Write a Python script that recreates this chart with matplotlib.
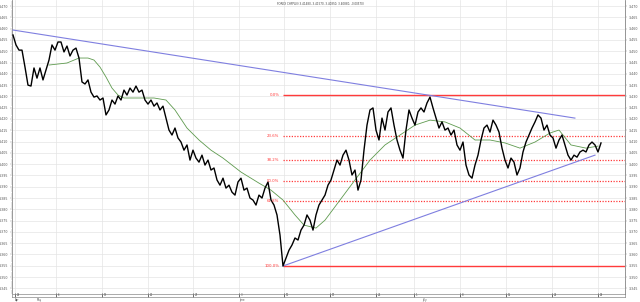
import matplotlib
matplotlib.use("Agg")
import matplotlib.pyplot as plt
import matplotlib.transforms as mtransforms
from matplotlib.ticker import MultipleLocator
import numpy as np

title = "FOREX CHFPLN (3.41480, 3.41570, 3.40350, 3.40880, -0.00570)"

# price series (uniformly sampled bars)
prices = [
    3.4572, 3.4528, 3.4505, 3.4505, 3.4430, 3.4350, 3.4346, 3.4426, 3.4381, 3.4426,
    3.4373, 3.4417, 3.4461, 3.4528, 3.4505, 3.4541, 3.4541, 3.4497, 3.4523, 3.4479,
    3.4505, 3.4514, 3.4470, 3.4364, 3.4355, 3.4373, 3.4319, 3.4297, 3.4302, 3.4284,
    3.4293, 3.4218, 3.4240, 3.4284, 3.4266, 3.4302, 3.4284, 3.4328, 3.4306, 3.4337,
    3.4319, 3.4346, 3.4319, 3.4328, 3.4284, 3.4266, 3.4284, 3.4257, 3.4271, 3.4240,
    3.4257, 3.4204, 3.4151, 3.4129, 3.4160, 3.4116, 3.4098, 3.4062, 3.4085, 3.4018,
    3.4062, 3.4027, 3.4009, 3.4040, 3.3996, 3.4018, 3.3974, 3.3983, 3.3930, 3.3907,
    3.3938, 3.3894, 3.3907, 3.3876, 3.3863, 3.3921, 3.3938, 3.3885, 3.3894, 3.3850,
    3.3841, 3.3819, 3.3863, 3.3850, 3.3894, 3.3921, 3.3841, 3.3819, 3.3775, 3.3686,
    3.3549, 3.3584, 3.3619, 3.3642, 3.3673, 3.3664, 3.3708, 3.3730, 3.3775, 3.3752,
    3.3708, 3.3775, 3.3819, 3.3841, 3.3863, 3.3907, 3.3930, 3.3974, 3.4018, 3.3996,
    3.4040, 3.4062, 3.4018, 3.3952, 3.3974, 3.3885, 3.3930, 3.4062, 3.4173, 3.4240,
    3.4249, 3.4151, 3.4107, 3.4204, 3.4151, 3.4231, 3.4249, 3.4173, 3.4107, 3.4062,
    3.4027, 3.4151, 3.4240, 3.4204, 3.4173, 3.4231, 3.4249, 3.4231, 3.4271, 3.4297,
    3.4249, 3.4204, 3.4160, 3.4187, 3.4151, 3.4160, 3.4129, 3.4151, 3.4085, 3.4062,
    3.4098, 3.3996, 3.3952, 3.3938, 3.3996, 3.4040, 3.4107, 3.4160, 3.4173, 3.4142,
    3.4195, 3.4173, 3.4142, 3.4071, 3.4018, 3.3983, 3.4027, 3.4009, 3.3952, 3.3983,
    3.4054, 3.4098, 3.4129, 3.4160, 3.4187, 3.4218, 3.4204, 3.4151, 3.4173, 3.4129,
    3.4116, 3.4071, 3.4107, 3.4129, 3.4085, 3.4040, 3.4018, 3.4040, 3.4031, 3.4054,
    3.4062, 3.4054, 3.4085, 3.4098, 3.4085, 3.4054, 3.4094,
]

# moving average
ma_idx = [12, 18, 22, 25, 27, 29, 31, 33, 35, 37, 42, 47, 51, 54, 58, 62, 66, 70,
          76, 82, 86, 90, 94, 97, 101, 104, 109, 114, 119, 124, 129, 134, 139, 144,
          149, 154, 159, 164, 169, 174, 179, 182, 186, 191, 195]
ma_val = [3.4439, 3.4448, 3.4470, 3.4470, 3.4461, 3.4430, 3.4386, 3.4337, 3.4306,
          3.4293, 3.4293, 3.4293, 3.4284, 3.4240, 3.4160, 3.4107, 3.4062, 3.4027,
          3.3965, 3.3916, 3.3885, 3.3841, 3.3775, 3.3730, 3.3717, 3.3752, 3.3841,
          3.3930, 3.4018, 3.4085, 3.4129, 3.4173, 3.4195, 3.4187, 3.4160, 3.4107,
          3.4107, 3.4094, 3.4071, 3.4098, 3.4138, 3.4151, 3.4085, 3.4071, 3.4080]

# trendlines (bar index, price)
trend_top = ([0, 187.3], [3.4594, 3.4204])
trend_bottom = ([90, 194], [3.3549, 3.4040])

# Fibonacci retracement
fib_start = 90
fib_high = 3.4305
fib_low = 3.3550
fib_levels = [0.0, 23.6, 38.2, 50.0, 61.8, 100.0]

# time axis
week_pos = [0.67, 14.3, 29.7, 45, 60, 75.3, 90.3, 105.7, 121, 133.7, 149, 164.3, 179.7, 195]
week_lbl = ["29", "6", "13", "20", "27", "3", "10", "17", "24", "1", "8", "15", "22", "29"]
month_pos = [0.67, 8, 75.3, 136.3]
month_lbl = ["Apr", "May", "June", "July"]

W, H = 640, 302
fig = plt.figure(figsize=(W / 100, H / 100), dpi=100)
fig.patch.set_facecolor("white")

x0, x1 = 12 / W, 625 / W
ax = fig.add_axes([x0, 8 / H, x1 - x0, 1 - 8 / H])
xlim = (-0.33, 204)
ylim = (3.3425, 3.4727)
ax.set_xlim(*xlim)
ax.set_ylim(*ylim)

gridc = "#e4e4e4"
for p in week_pos:
    ax.axvline(p, color=gridc, lw=0.5, zorder=0)
for v in np.arange(3.345, 3.4701, 0.005):
    ax.axhline(v, color=gridc, lw=0.5, zorder=0)

ax.yaxis.set_major_locator(MultipleLocator(0.005))
ax.yaxis.set_minor_locator(MultipleLocator(0.001))
ax.yaxis.set_major_formatter(matplotlib.ticker.FormatStrFormatter("%.3f"))
ax.tick_params(axis="y", which="both", left=True, right=True, labelleft=True,
               labelright=True, labelsize=2.3, labelcolor="#555555", color="#888888",
               direction="out", width=0.3, pad=1)
ax.tick_params(axis="y", which="major", length=1.5)
ax.tick_params(axis="y", which="minor", length=0.8)
ax.set_xticks([])
for s in ["left", "right", "bottom"]:
    ax.spines[s].set_color("#888888")
    ax.spines[s].set_linewidth(0.6)
ax.spines["top"].set_visible(False)

# fib lines
red = "#ff3b3b"
rng = fib_high - fib_low
for lvl in fib_levels:
    price = fib_high - rng * lvl / 100.0
    if lvl in (0.0, 100.0):
        ax.plot([fib_start, xlim[1]], [price, price], color=red, lw=1.0, ls="-",
                zorder=2, solid_capstyle="butt")
    else:
        ax.plot([fib_start, xlim[1]], [price, price], color=red, lw=0.9,
                ls=(0, (1, 1.2)), zorder=2)
    ax.text(fib_start - 1.2, price, f"{lvl:.1f}%", color=red, fontsize=2.8,
            ha="right", va="center", zorder=5)

ax.plot(trend_top[0], trend_top[1], color="#7f7fe0", lw=0.8, zorder=3)
ax.plot(trend_bottom[0], trend_bottom[1], color="#7f7fe0", lw=0.8, zorder=3)

ax.plot(ma_idx, ma_val, color="#5e9a4e", lw=0.6, zorder=3)
ax.plot(np.arange(len(prices)), prices, color="black", lw=1.0, zorder=4)

fig.text(320 / W, 1 - 4 / H, title, fontsize=2.0, ha="center", va="center", color="#444444")

# time strip
ax2 = fig.add_axes([x0, 5 / H, x1 - x0, 3 / H])
ax2.set_xlim(*xlim)
ax2.set_ylim(0, 1)
ax2.set_yticks([])
ax2.set_xticks(week_pos)
ax2.set_xticklabels([])
ax2.tick_params(axis="x", direction="in", length=3, width=0.6, color="#555555")
for s in ax2.spines.values():
    s.set_color("#888888")
    s.set_linewidth(0.5)
for p, l in zip(week_pos, week_lbl):
    ax2.text(p + 0.6, 0.5, l, fontsize=1.8, ha="left", va="center", color="#444444")
trans = mtransforms.blended_transform_factory(ax2.transData, fig.transFigure)
for p, l in zip(month_pos, month_lbl):
    ax2.text(p, 1.5 / H, l, transform=trans, fontsize=1.8, ha="left", va="center", color="#444444")

fig.savefig("out.png", dpi=100, facecolor="white")
